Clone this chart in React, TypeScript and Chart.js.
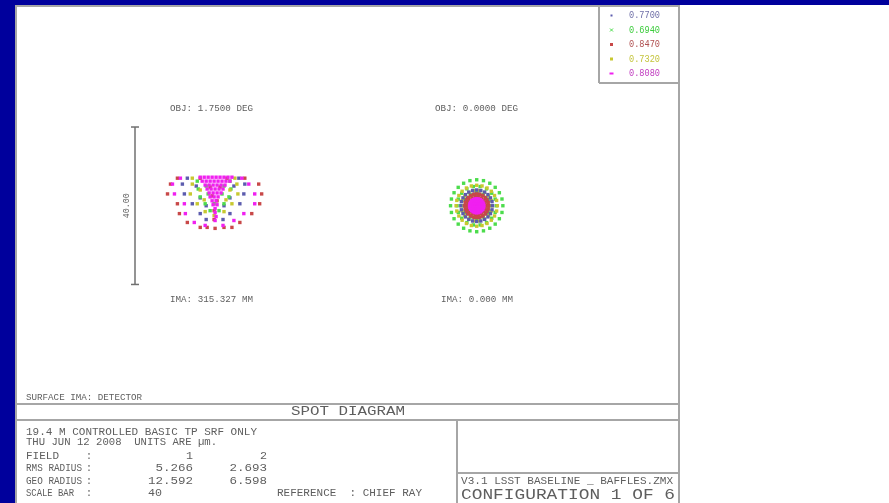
import React, { useEffect, useRef } from "react";
import { Chart, registerables } from "chart.js";
Chart.register(...registerables);

// ---------- data ----------
const WAVELENGTHS = ["0.7700", "0.6940", "0.8470", "0.7320", "0.8080"];
const WAVE_COLORS = ["#5c5cae", "#4cdc4c", "#c84848", "#c8c830", "#f020f0"];
const LEGEND_TEXT_COLORS = ["#7070a8", "#3ccc3c", "#b05050", "#c4c43c", "#c03cc0"];
const F1_DRAW_ORDER = [5, 4, 3, 2, 1];
const F2_DRAW_ORDER = [3, 5, 2, 4, 1];

const OBJ_LABELS = ["OBJ: 1.7500 DEG", "OBJ: 0.0000 DEG"];
const IMA_LABELS = ["IMA: 315.327 MM", "IMA: 0.000 MM"];
const FIELD_NUMBERS = ["1", "2"];
const RMS_RADIUS = ["5.266", "2.693"];
const GEO_RADIUS = ["12.592", "6.598"];
const SCALE_BAR_UM = 40;
const SCALE_BAR_LABEL = "40.00";

// Field 1 spots (µm relative to chief ray), per wavelength
const F1_0770: number[][] = [
  [-6.75, 7], [-8, 5.5], [-7.5, 3], [-5.5, 0.5], [-3.5, -2], [-2, -3.5],
  [6.25, 7], [7.75, 5.5], [7.5, 3], [6.5, 0.5], [4, -2], [2.25, -3.5],
  [-4.5, 5], [-3.5, 2], [5, 5], [4, 2], [-2, 0], [2.5, 0],
];
const F1_0694: number[][] = [
  [-4.25, 6.25], [-4, 4.25], [-3.5, 2.25], [-2.25, 0.5], [-1, -1.25],
  [4, 6.25], [4.25, 4.25], [3.75, 2.25], [2.5, 0.5], [1.25, -1.25],
  [-2, 5], [2.5, 5], [-1.5, 3], [2, 3], [0, 0.5],
];
const F1_0847: number[][] = [
  [-9.25, 7], [-3.5, 7], [3.25, 7], [7.75, 7], [-11, 5.5], [11.25, 5.5],
  [-11.75, 3], [12, 3], [-9.25, 0.5], [11.5, 0.5], [-8.75, -2], [9.5, -2],
  [-6.75, -4.25], [6.5, -4.25], [-3.5, -5.5], [-1.75, -5.5], [0.25, -5.75],
  [2.5, -5.5], [4.5, -5.5], [-0.5, 2.5], [0.75, 1.25], [0, -1.25],
  [-1, 4.75], [1.5, 4.75], [0, -3.5],
];
const F1_0732: number[][] = [
  [-5.5, 7], [-5.5, 5.5], [-6, 3], [-4.25, 0.5], [-2.25, -1.5],
  [5.25, 7], [5.75, 5.5], [6, 3], [4.5, 0.5], [2.5, -1.5],
  [-3.5, 4], [4, 4], [-2.5, 1.5], [3, 1.5], [0, -2.5],
];
const F1_0808: number[][] = [
  [-8.5, 7], [-10.5, 5.5], [-10, 3], [-7.5, 0.5], [-7.25, -2], [-5, -4.25], [-2.25, -5],
  [7, 7], [8.75, 5.5], [10.25, 3], [10.25, 0.5], [7.5, -2], [5, -3.75], [2.25, -5],
  [-3.5, 7.25], [-2.5, 7.25], [-1.5, 7.25], [-0.5, 7.25], [0.5, 7.25], [1.5, 7.25],
  [2.5, 7.25], [3.5, 7.25], [4.5, 7.25],
  [-3, 6.25], [-2, 6.25], [-1, 6.25], [0, 6.25], [1, 6.25], [2, 6.25], [3, 6.25], [4, 6.25],
  [-2.25, 5.25], [-1.25, 5.25], [-0.25, 5.25], [0.75, 5.25], [1.75, 5.25], [2.75, 5.25],
  [-1.75, 4.25], [-0.75, 4.25], [0.25, 4.25], [1.25, 4.25], [2.25, 4.25],
  [-1.25, 3.25], [-0.25, 3.25], [0.75, 3.25], [1.75, 3.25],
  [-1, 2.25], [0, 2.25], [1, 2.25],
  [-0.5, 1.25], [0.5, 1.25],
  [-0.25, 0.25], [0.75, 0.25],
  [0.25, -0.75], [0.25, -1.75], [0.5, -2.75], [0.25, -3.75],
];

// Field 2 (on axis): ring radii (µm) per wavelength, hexapolar ray rings
const F2_RINGS_0770 = [1.0, 2.0, 3.0, 4.0];
const F2_RINGS_0694 = [1.65, 3.3, 4.95, 6.6];
const F2_RINGS_0847 = [0.75, 1.5, 2.25, 3.0];
const F2_RINGS_0732 = [1.3, 2.6, 3.9, 5.2];
const F2_RINGS_0808 = [0.45, 0.9, 1.35, 1.8];
const HEXAPOLAR_RAYS_PER_RING = [6, 12, 18, 24];

const FIELD1 = [F1_0770, F1_0694, F1_0847, F1_0732, F1_0808];
const FIELD2 = [F2_RINGS_0770, F2_RINGS_0694, F2_RINGS_0847, F2_RINGS_0732, F2_RINGS_0808];

// ---------- layout ----------
const W = 889;
const H = 503;
const PX_PER_UM = 4;
const FIELD_CENTER_X = [212, 477];
const CENTER_Y = 205;
const FONT = '"Liberation Mono", "DejaVu Sans Mono", monospace';
const TEXT = "#5e5e5e";
const LINE = "#a6a6a6";
const BLUE = "#00009c";

function ringsToPoints(radii: number[]) {
  const pts = [{ x: 0, y: 0 }];
  radii.forEach((r, i) => {
    const n = HEXAPOLAR_RAYS_PER_RING[i];
    for (let j = 0; j < n; j++) {
      const a = (2 * Math.PI * j) / n;
      pts.push({ x: r * Math.cos(a), y: r * Math.sin(a) });
    }
  });
  return pts;
}

function fitText(ctx: CanvasRenderingContext2D, text: string, x: number, y: number, size: number, width: number, color = TEXT) {
  ctx.save();
  ctx.font = `${size}px ${FONT}`;
  ctx.textBaseline = "middle";
  ctx.textAlign = "left";
  ctx.fillStyle = color;
  const w = ctx.measureText(text).width;
  ctx.translate(x, y);
  ctx.scale(width / w, 1);
  ctx.fillText(text, 0, 0);
  ctx.restore();
}

function line(ctx: CanvasRenderingContext2D, x1: number, y1: number, x2: number, y2: number) {
  ctx.beginPath();
  ctx.moveTo(x1, y1);
  ctx.lineTo(x2, y2);
  ctx.stroke();
}

const framePlugin = {
  id: "zemaxFrame",
  beforeDraw(chart: any) {
    const ctx: CanvasRenderingContext2D = chart.ctx;
    ctx.save();
    ctx.fillStyle = "#ffffff";
    ctx.fillRect(0, 0, W, H);
    ctx.fillStyle = BLUE;
    ctx.fillRect(0, 0, W, 5);
    ctx.fillRect(0, 0, 15, H);
    ctx.strokeStyle = LINE;
    ctx.lineWidth = 2;
    line(ctx, 16, 6, 16, H);
    line(ctx, 15, 6, 680, 6);
    line(ctx, 679, 6, 679, H);
    line(ctx, 16, 404, 679, 404);
    line(ctx, 16, 420, 679, 420);
    line(ctx, 457, 420, 457, H);
    line(ctx, 457, 473, 679, 473);
    line(ctx, 599, 6, 599, 83);
    line(ctx, 599, 83, 679, 83);
    ctx.restore();
  },
  afterDraw(chart: any) {
    const ctx: CanvasRenderingContext2D = chart.ctx;
    const ys = chart.scales.y;
    ctx.save();
    // scale bar
    const top = ys.getPixelForValue(SCALE_BAR_UM / 2);
    const bot = ys.getPixelForValue(-SCALE_BAR_UM / 2);
    ctx.strokeStyle = "#707070";
    ctx.lineWidth = 1.5;
    line(ctx, 135, top, 135, bot);
    line(ctx, 131, top, 139, top);
    line(ctx, 131, bot, 139, bot);
    ctx.save();
    ctx.translate(127, (top + bot) / 2);
    ctx.rotate(-Math.PI / 2);
    fitText(ctx, SCALE_BAR_LABEL, -12.5, 0, 9, 25);
    ctx.restore();

    // field labels
    fitText(ctx, OBJ_LABELS[0], 170, 109, 9, 83);
    fitText(ctx, OBJ_LABELS[1], 435, 109, 9, 83);
    fitText(ctx, IMA_LABELS[0], 170, 300, 9, 83);
    fitText(ctx, IMA_LABELS[1], 441, 300, 9, 72);
    fitText(ctx, "SURFACE IMA: DETECTOR", 26, 398, 9, 116);

    // title block
    fitText(ctx, "SPOT DIAGRAM", 291, 412, 13, 114);
    fitText(ctx, "19.4 M CONTROLLED BASIC TP SRF ONLY", 26, 431.5, 11.5, 231);
    fitText(ctx, "THU JUN 12 2008  UNITS ARE \u00b5m.", 26, 442, 11.5, 191);
    const rows = [455.5, 468, 480.5, 493];
    fitText(ctx, "FIELD", 26, rows[0], 11.5, 33);
    fitText(ctx, "RMS RADIUS", 26, rows[1], 11.5, 56);
    fitText(ctx, "GEO RADIUS", 26, rows[2], 11.5, 56);
    fitText(ctx, "SCALE BAR", 26, rows[3], 11.5, 48);
    [0, 1, 2, 3].forEach((i) => fitText(ctx, ":", 86, rows[i], 11.5, 6));
    const colRight = [193, 267];
    const cw = 7.5;
    const right = (t: string, r: number, y: number) => fitText(ctx, t, r - t.length * cw, y, 11.5, t.length * cw);
    FIELD_NUMBERS.forEach((t, i) => fitText(ctx, t, colRight[i] - 7, rows[0], 11.5, 7));
    RMS_RADIUS.forEach((t, i) => right(t, colRight[i], rows[1]));
    GEO_RADIUS.forEach((t, i) => right(t, colRight[i], rows[2]));
    fitText(ctx, String(SCALE_BAR_UM), 148, rows[3], 11.5, 14);
    fitText(ctx, "REFERENCE  : CHIEF RAY", 277, rows[3], 11.5, 145);
    fitText(ctx, "V3.1 LSST BASELINE _ BAFFLES.ZMX", 461, 481.5, 10.5, 212);
    fitText(ctx, "CONFIGURATION 1 OF 6", 461, 495, 14, 214);

    // legend
    const legY = [15.5, 30, 44.5, 59, 73.5];
    WAVELENGTHS.forEach((wl, i) => {
      const y = legY[i];
      ctx.fillStyle = WAVE_COLORS[i];
      ctx.strokeStyle = WAVE_COLORS[i];
      ctx.lineWidth = 1;
      if (i === 0) ctx.fillRect(610.5, y - 1, 2, 2);
      else if (i === 1) {
        line(ctx, 610, y - 1.5, 613, y + 1.5);
        line(ctx, 610, y + 1.5, 613, y - 1.5);
      } else if (i === 4) ctx.fillRect(609.5, y - 1, 4, 2);
      else ctx.fillRect(610, y - 1.5, 3, 3);
      fitText(ctx, wl, 629, y, 10, 31, LEGEND_TEXT_COLORS[i]);
    });
    ctx.restore();
  },
};

export default function App() {
  const ref = useRef<HTMLCanvasElement>(null);
  useEffect(() => {
    if (!ref.current) return;
    const datasets: any[] = [];
    WAVELENGTHS.forEach((wl, i) => {
      datasets.push({
        label: `F1 ${wl}`,
        data: FIELD1[i].map(([x, y]) => ({ x, y })),
        xAxisID: "x1",
        yAxisID: "y",
        pointStyle: "rect",
        pointRadius: 2.4,
        borderWidth: 0,
        backgroundColor: WAVE_COLORS[i],
        order: F1_DRAW_ORDER[i],
      });
      datasets.push({
        label: `F2 ${wl}`,
        data: ringsToPoints(FIELD2[i]),
        xAxisID: "x2",
        yAxisID: "y",
        pointStyle: "rect",
        pointRadius: 2.4,
        borderWidth: 0,
        backgroundColor: WAVE_COLORS[i],
        order: F2_DRAW_ORDER[i],
      });
    });
    const chart = new Chart(ref.current, {
      type: "scatter",
      data: { datasets },
      options: {
        animation: false,
        responsive: false,
        events: [],
        layout: { padding: 0 },
        plugins: { legend: { display: false }, tooltip: { enabled: false }, title: { display: false } },
        scales: {
          x1: { type: "linear", display: false, min: -FIELD_CENTER_X[0] / PX_PER_UM, max: (W - FIELD_CENTER_X[0]) / PX_PER_UM },
          x2: { type: "linear", display: false, min: -FIELD_CENTER_X[1] / PX_PER_UM, max: (W - FIELD_CENTER_X[1]) / PX_PER_UM },
          y: { type: "linear", display: false, min: -(H - CENTER_Y) / PX_PER_UM, max: CENTER_Y / PX_PER_UM },
        },
      },
      plugins: [framePlugin],
    });
    return () => chart.destroy();
  }, []);
  return (
    <div style={{ position: "fixed", left: 0, top: 0, width: W, height: H, background: "#fff" }}>
      <canvas ref={ref} width={W} height={H} style={{ width: W, height: H, display: "block" }} />
    </div>
  );
}
